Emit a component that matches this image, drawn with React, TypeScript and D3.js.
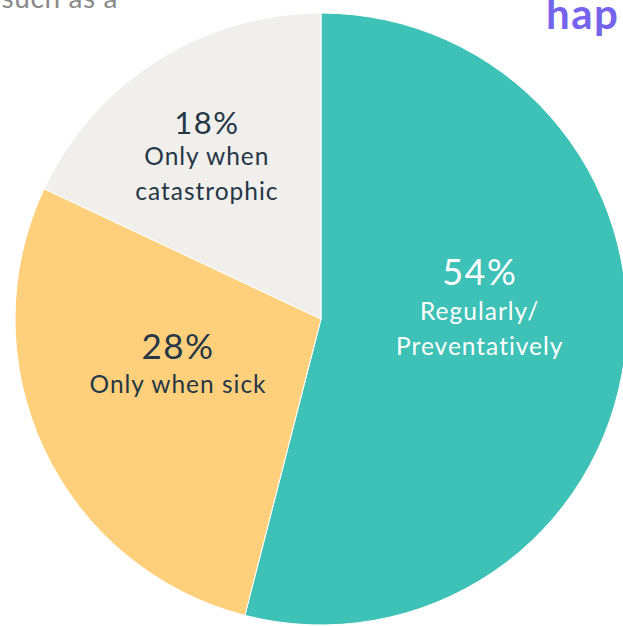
import React from "react";
import * as d3 from "d3";

const categories = ["Regularly/ Preventatively", "Only when sick", "Only when catastrophic"];
const values = [54, 28, 18];
const labelLines = [["Regularly/", "Preventatively"], ["Only when sick"], ["Only when", "catastrophic"]];
const colors = ["#3ec1b6", "#fed07c", "#f0efec"];
const textColors = ["#ffffff", "#253746", "#253746"];

const W = 623;
const H = 626;
const cx = 321;
const cy = 319;
const R = 306;

// label placement inside each slice and font sizes
const labelStyle = [
  { r: 160, dy: -54, pct: 36, sub: 24.5, first: 35, gap: 35 },
  { r: 158, dy: -27, pct: 35, sub: 24.5, first: 34, gap: 35 },
  { r: 213, dy: -5, pct: 31, sub: 24.5, first: 31, gap: 35 },
];

export default function App() {
  const pie = d3.pie<number>().sort(null).value((d) => d)(values);
  const arc = d3.arc<d3.PieArcDatum<number>>().innerRadius(0).outerRadius(R);
  const font = "Lato, 'Noto Sans', sans-serif";
  return (
    <svg
      width={W}
      height={H}
      style={{ position: "fixed", left: 0, top: 0, background: "#fff" }}
    >
      <text x={118} y={8} textAnchor="end" fontFamily={font} fontSize={28} letterSpacing={0.6} fill="#8a8a8a">
        such as a
      </text>
      <text x={546} y={29} fontFamily={font} fontSize={42} fontWeight={700} letterSpacing={1.5} fill="#7563ee">
        hap
      </text>
      <g transform={`translate(${cx},${cy})`}>
        {pie.map((p, i) => (
          <path key={categories[i]} d={arc(p) || ""} fill={colors[i]} stroke="#ffffff" strokeWidth={1} />
        ))}
        {pie.map((p, i) => {
          const s = labelStyle[i];
          const c = d3.arc<d3.PieArcDatum<number>>().innerRadius(s.r).outerRadius(s.r).centroid(p);
          const x = c[0];
          const y = c[1] + s.dy;
          return (
            <g key={"l" + i} fontFamily={font} fill={textColors[i]} textAnchor="middle">
              <text x={x} y={y} fontSize={s.pct} letterSpacing={1.5}>{values[i]}%</text>
              {labelLines[i].map((ln, j) => (
                <text key={j} x={x} y={y + s.first + j * s.gap} fontSize={s.sub} letterSpacing={1}>
                  {ln}
                </text>
              ))}
            </g>
          );
        })}
      </g>
    </svg>
  );
}
